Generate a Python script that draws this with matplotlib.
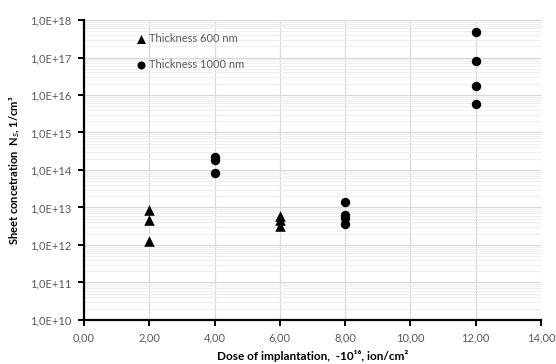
import matplotlib
matplotlib.use("Agg")
import matplotlib.pyplot as plt
from matplotlib.ticker import FuncFormatter, LogLocator, MultipleLocator, NullFormatter
import math

# Data
dose_600 = [2, 2, 2, 6, 6, 6]
conc_600 = [8.6e12, 4.6e12, 1.25e12, 6.0e12, 4.5e12, 3.3e12]

dose_1000 = [4, 4, 4, 8, 8, 8, 8, 12, 12, 12, 12]
conc_1000 = [2.25e14, 1.85e14, 8.2e13, 1.4e13, 6.3e12, 5.2e12, 3.6e12,
             4.7e17, 7.9e16, 1.75e16, 5.9e15]

label_600 = "Thickness 600 nm"
label_1000 = "Thickness 1000 nm"

plt.rcParams['font.family'] = ['Lato', 'DejaVu Sans']

fig = plt.figure(figsize=(5.56, 3.64), dpi=100)
ax = fig.add_axes([0.151, 0.121, 0.822, 0.824])

ax.set_yscale('log')
ax.set_ylim(1e10, 1e18)
ax.set_xlim(0, 14)

ax.scatter(dose_600, conc_600, marker='^', s=58, color='black', label=label_600, zorder=3, linewidths=0)
ax.scatter(dose_1000, conc_1000, marker='o', s=46, color='black', label=label_1000, zorder=3, linewidths=0)

ax.xaxis.set_major_locator(MultipleLocator(2))
ax.xaxis.set_major_formatter(FuncFormatter(lambda v, p: f"{v:.2f}".replace('.', ',')))
ax.yaxis.set_major_locator(LogLocator(base=10, numticks=20))
ax.yaxis.set_minor_locator(LogLocator(base=10, subs=range(2, 10), numticks=100))
ax.yaxis.set_minor_formatter(NullFormatter())

def yfmt(v, p):
    e = int(round(math.log10(v)))
    return f"1,0E+{e:02d}"
ax.yaxis.set_major_formatter(FuncFormatter(yfmt))

ax.grid(True, which='major', axis='both', color='#d9d9d9', linewidth=0.9, zorder=0)
ax.grid(True, which='minor', axis='y', color='#eeeeee', linewidth=0.7, zorder=0)
ax.set_axisbelow(True)

for s in ['top', 'right']:
    ax.spines[s].set_visible(False)
for s in ['left', 'bottom']:
    ax.spines[s].set_linewidth(1.6)
    ax.spines[s].set_color('black')

ax.tick_params(axis='both', which='major', length=4, width=1.4, color='black',
               labelsize=8, labelcolor='#595959', pad=5)
ax.tick_params(axis='y', which='minor', length=0)

ax.set_xlabel("Dose of implantation,  -10¹⁶, ion/cm²", fontsize=8.5, fontweight='bold', labelpad=5)
ax.set_ylabel("Sheet concetration  N$_s$, 1/cm³", fontsize=8, fontweight='bold', labelpad=6)

leg = ax.legend(loc='upper left', bbox_to_anchor=(0.08, 0.985), frameon=False, fontsize=8,
                handletextpad=-0.2, labelspacing=1.3, borderpad=0.3, markerscale=0.85)
for t in leg.get_texts():
    t.set_color('#595959')

fig.savefig("out.png", dpi=100)
